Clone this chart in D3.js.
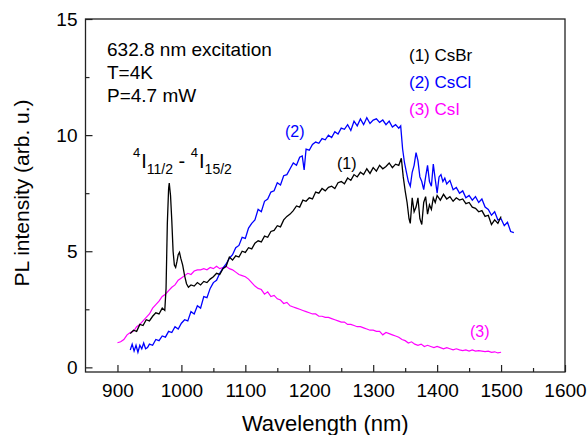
<!DOCTYPE html>
<html lang="en">
<head>
  <meta charset="UTF-8">
  <title>PL spectra CsBr CsCl CsI</title>
  <script src="https://d3js.org/d3.v7.min.js"></script>
  <style>
    body { margin: 0; background: #fff; }
    text { font-family: "Liberation Sans", Arial, sans-serif; }
  </style>
</head>
<body>
  <svg id="chart" width="587" height="435"></svg>

  <script>
    // [wavelength nm, PL intensity]
    const csBr = [[920,1.45],[925,1.60],[930,1.55],[935,1.85],[940,1.80],[945,2.05],[950,2.00],[955,2.20],[960,2.35],[965,2.30],[970,2.55],[974,2.45],[976,3.40],[978,6.20],[980,7.70],[981,7.93],[983,7.40],[985,6.30],[987,5.00],[989,4.40],[991,4.30],[993,4.55],[995,4.85],[997,4.95],[999,4.70],[1002,4.40],[1005,3.95],[1008,3.60],[1011,3.45],[1015,3.55],[1020,3.50],[1025,3.65],[1030,3.55],[1035,3.70],[1040,3.65],[1045,3.80],[1050,3.90],[1055,4.05],[1060,4.00],[1065,4.25],[1070,4.35],[1075,4.75],[1080,4.62],[1085,4.80],[1090,4.75],[1095,5.00],[1100,4.95],[1105,5.15],[1110,5.10],[1115,5.35],[1120,5.45],[1125,5.40],[1130,5.65],[1135,5.60],[1140,5.85],[1145,5.90],[1150,6.10],[1155,6.05],[1160,6.35],[1165,6.50],[1170,6.60],[1175,6.75],[1180,6.95],[1185,6.90],[1190,7.20],[1195,7.15],[1200,7.30],[1205,7.25],[1210,7.55],[1215,7.50],[1220,7.70],[1225,7.60],[1230,7.75],[1235,7.80],[1240,7.70],[1245,7.95],[1250,8.00],[1255,7.90],[1260,8.15],[1265,8.05],[1270,8.30],[1275,8.20],[1280,8.40],[1285,8.30],[1290,8.55],[1295,8.35],[1300,8.60],[1305,8.45],[1310,8.70],[1315,8.55],[1320,8.65],[1325,8.80],[1330,8.60],[1335,8.75],[1340,8.70],[1344,9.00],[1347,8.20],[1350,7.60],[1353,7.10],[1356,6.40],[1358,6.20],[1361,7.30],[1364,6.70],[1367,6.90],[1370,7.30],[1373,6.40],[1376,6.15],[1379,7.10],[1382,7.35],[1385,6.60],[1388,7.00],[1391,6.80],[1394,7.30],[1397,7.10],[1400,7.40],[1405,7.20],[1410,7.45],[1415,7.25],[1420,7.35],[1425,7.15],[1430,7.30],[1435,7.20],[1440,7.25],[1445,7.05],[1450,7.10],[1455,6.90],[1460,6.85],[1465,6.70],[1470,6.75],[1475,6.50],[1480,6.55],[1485,6.15],[1490,6.35],[1495,6.20],[1500,6.50]]

    const csCl = [[920,0.75],[923,1.00],[926,0.70],[929,0.95],[932,0.65],[935,0.95],[938,0.80],[941,1.05],[944,0.80],[947,0.85],[950,1.00],[955,0.95],[960,1.20],[965,1.15],[970,1.35],[975,1.30],[980,1.55],[985,1.50],[990,1.75],[995,1.65],[1000,1.90],[1005,2.05],[1010,2.00],[1015,2.40],[1020,2.30],[1025,2.65],[1030,2.55],[1035,3.05],[1040,3.00],[1045,3.40],[1050,3.65],[1055,3.75],[1060,4.05],[1065,4.27],[1070,4.45],[1075,4.70],[1080,4.85],[1085,5.15],[1090,5.25],[1095,5.60],[1100,5.55],[1105,6.00],[1110,6.20],[1115,6.35],[1120,6.80],[1125,6.70],[1130,7.15],[1135,7.25],[1140,7.55],[1145,7.60],[1150,7.95],[1155,7.85],[1160,8.25],[1165,8.30],[1170,8.55],[1175,8.80],[1180,8.70],[1185,9.05],[1189,9.10],[1192,8.50],[1195,9.40],[1200,9.35],[1205,9.60],[1210,9.70],[1215,9.65],[1220,9.85],[1225,9.80],[1230,10.00],[1235,9.90],[1240,10.15],[1245,10.05],[1250,10.30],[1255,10.25],[1260,10.45],[1265,10.20],[1270,10.60],[1275,10.40],[1280,10.70],[1285,10.45],[1290,10.75],[1295,10.50],[1300,10.65],[1305,10.70],[1310,10.55],[1315,10.65],[1320,10.45],[1325,10.60],[1330,10.35],[1335,10.45],[1340,10.30],[1343,10.40],[1346,9.40],[1349,8.80],[1352,8.40],[1355,8.00],[1358,7.80],[1361,8.40],[1364,8.70],[1367,9.25],[1370,8.90],[1373,8.20],[1376,8.00],[1379,7.65],[1382,8.20],[1385,8.70],[1388,8.00],[1391,7.80],[1394,8.75],[1397,8.10],[1400,7.50],[1403,8.20],[1406,8.30],[1409,8.00],[1412,8.15],[1415,7.90],[1420,8.05],[1425,7.65],[1430,7.75],[1435,7.50],[1440,7.60],[1445,7.30],[1450,7.40],[1455,7.20],[1460,7.35],[1465,7.10],[1470,7.25],[1475,6.90],[1480,6.80],[1485,6.55],[1490,6.70],[1495,6.35],[1500,6.40],[1505,6.10],[1510,6.25],[1515,5.85],[1520,5.80]]

    const csI = [[900,1.06],[905,1.10],[910,1.20],[915,1.40],[920,1.50],[925,1.55],[930,1.75],[935,1.85],[940,2.00],[945,2.15],[950,2.30],[955,2.55],[960,2.70],[965,2.85],[970,3.05],[975,3.15],[980,3.30],[985,3.45],[990,3.55],[995,3.75],[1000,3.85],[1005,3.95],[1010,4.05],[1015,4.00],[1020,4.15],[1025,4.20],[1030,4.20],[1035,4.25],[1040,4.20],[1045,4.30],[1050,4.25],[1055,4.35],[1060,4.25],[1065,4.30],[1070,4.35],[1075,4.25],[1080,4.20],[1085,4.10],[1090,4.00],[1095,3.95],[1100,3.90],[1105,3.80],[1110,3.65],[1115,3.50],[1120,3.40],[1125,3.35],[1130,3.15],[1135,3.25],[1140,3.05],[1145,3.10],[1150,2.95],[1155,2.90],[1160,2.75],[1165,2.80],[1170,2.65],[1175,2.60],[1180,2.55],[1185,2.50],[1190,2.45],[1195,2.40],[1200,2.35],[1205,2.30],[1210,2.30],[1215,2.20],[1220,2.20],[1225,2.15],[1230,2.15],[1235,2.10],[1240,2.05],[1245,2.00],[1250,1.95],[1255,1.95],[1260,1.85],[1265,1.85],[1270,1.80],[1275,1.75],[1280,1.75],[1285,1.70],[1290,1.65],[1295,1.60],[1300,1.60],[1305,1.55],[1310,1.55],[1315,1.40],[1320,1.50],[1325,1.45],[1330,1.40],[1335,1.35],[1340,1.30],[1345,1.20],[1350,1.15],[1355,1.05],[1360,1.10],[1365,1.00],[1370,0.95],[1375,1.00],[1380,0.90],[1385,0.95],[1390,0.90],[1395,0.85],[1400,0.90],[1405,0.85],[1410,0.80],[1415,0.85],[1420,0.80],[1425,0.75],[1430,0.80],[1435,0.75],[1440,0.72],[1445,0.75],[1450,0.70],[1455,0.75],[1460,0.70],[1465,0.72],[1470,0.70],[1475,0.68],[1480,0.70],[1485,0.65],[1490,0.67],[1495,0.62],[1500,0.65]]

    const xTicks = [900, 1000, 1100, 1200, 1300, 1400, 1500, 1600]
    const xMinor = [950, 1050, 1150, 1250, 1350, 1450, 1550]
    const yTicks = [0, 5, 10, 15]
    const yMinor = [2.5, 7.5, 12.5]

    const infoLines = ["632.8 nm excitation", "T=4K", "P=4.7 mW"]
    const legendItems = [
      { text: "(1) CsBr", color: "#000000" },
      { text: "(2) CsCl", color: "#0000ff" },
      { text: "(3) CsI", color: "#ff00ff" }
    ]

    const plot = { left: 85.5, right: 565, top: 19, bottom: 372 }

    const svg = d3.select("#chart")

    const x = d3.scaleLinear().domain([850, 1600]).range([plot.left, plot.right])
    const y = d3.scaleLinear().domain([-0.2, 15]).range([plot.bottom, plot.top])

    // inward ticks, frame drawn separately
    const xAxis = svg.append("g")
      .attr("transform", "translate(0," + plot.bottom + ")")
      .call(d3.axisBottom(x).tickValues(xTicks).tickSizeInner(-7).tickSizeOuter(0).tickPadding(12).tickFormat(d3.format("d")))
    xAxis.select(".domain").remove()
    xAxis.selectAll("text").style("font-size", "19px").attr("fill", "#000")

    svg.append("g")
      .attr("transform", "translate(0," + plot.bottom + ")")
      .call(d3.axisBottom(x).tickValues(xMinor).tickSizeInner(-4).tickSizeOuter(0).tickFormat(""))
      .select(".domain").remove()

    const yAxis = svg.append("g")
      .attr("transform", "translate(" + plot.left + ",0)")
      .call(d3.axisLeft(y).tickValues(yTicks).tickSizeInner(-7).tickSizeOuter(0).tickPadding(8))
    yAxis.select(".domain").remove()
    yAxis.selectAll("text").style("font-size", "19px").attr("fill", "#000")

    svg.append("g")
      .attr("transform", "translate(" + plot.left + ",0)")
      .call(d3.axisLeft(y).tickValues(yMinor).tickSizeInner(-4).tickSizeOuter(0).tickFormat(""))
      .select(".domain").remove()

    svg.selectAll(".tick line").attr("stroke", "#222").attr("stroke-width", 1.2)

    svg.append("rect")
      .attr("x", plot.left).attr("y", plot.top)
      .attr("width", plot.right - plot.left).attr("height", plot.bottom - plot.top)
      .attr("fill", "none").attr("stroke", "#222").attr("stroke-width", 1.3)

    const line = d3.line().x(d => x(d[0])).y(d => y(d[1]))

    svg.append("path").datum(csI)
      .attr("fill", "none").attr("stroke", "#ff00ff").attr("stroke-width", 1.2)
      .attr("d", line)
    svg.append("path").datum(csCl)
      .attr("fill", "none").attr("stroke", "#0000ff").attr("stroke-width", 1.3)
      .attr("d", line)
    svg.append("path").datum(csBr)
      .attr("fill", "none").attr("stroke", "#000000").attr("stroke-width", 1.3)
      .attr("d", line)

    // axis titles
    svg.append("text")
      .attr("x", (plot.left + plot.right) / 2).attr("y", 431)
      .attr("text-anchor", "middle")
      .style("font-size", "22px")
      .text("Wavelength (nm)")

    svg.append("text")
      .attr("transform", "translate(29,193) rotate(-90)")
      .attr("text-anchor", "middle")
      .style("font-size", "21px")
      .text("PL intensity (arb. u.)")

    // conditions
    infoLines.forEach((t, i) => {
      svg.append("text")
        .attr("x", 107).attr("y", 56 + i * 23)
        .style("font-size", "19px")
        .text(t)
    })

    // legend
    legendItems.forEach((d, i) => {
      svg.append("text")
        .attr("x", 409).attr("y", 61 + i * 27)
        .attr("fill", d.color)
        .style("font-size", "17px")
        .text(d.text)
    })

    // curve labels
    svg.append("text").attr("x", 285).attr("y", 137).attr("fill", "#0000ff").style("font-size", "16px").text("(2)")
    svg.append("text").attr("x", 337).attr("y", 169).attr("fill", "#000").style("font-size", "16px").text("(1)")
    svg.append("text").attr("x", 470).attr("y", 337).attr("fill", "#ff00ff").style("font-size", "16px").text("(3)")

    // transition label 4I11/2 - 4I15/2
    const trans = svg.append("text").attr("x", 133).attr("y", 168).style("font-size", "20px")
    trans.append("tspan").attr("dy", -11).style("font-size", "13px").text("4")
    trans.append("tspan").attr("dy", 11).attr("dx", 1).text("I")
    trans.append("tspan").attr("dy", 6).style("font-size", "14px").text("11/2")
    trans.append("tspan").attr("dy", -6).text(" - ")
    trans.append("tspan").attr("dy", -11).style("font-size", "13px").text("4")
    trans.append("tspan").attr("dy", 11).attr("dx", 1).text("I")
    trans.append("tspan").attr("dy", 6).style("font-size", "14px").text("15/2")
  </script>
</body>
</html>
